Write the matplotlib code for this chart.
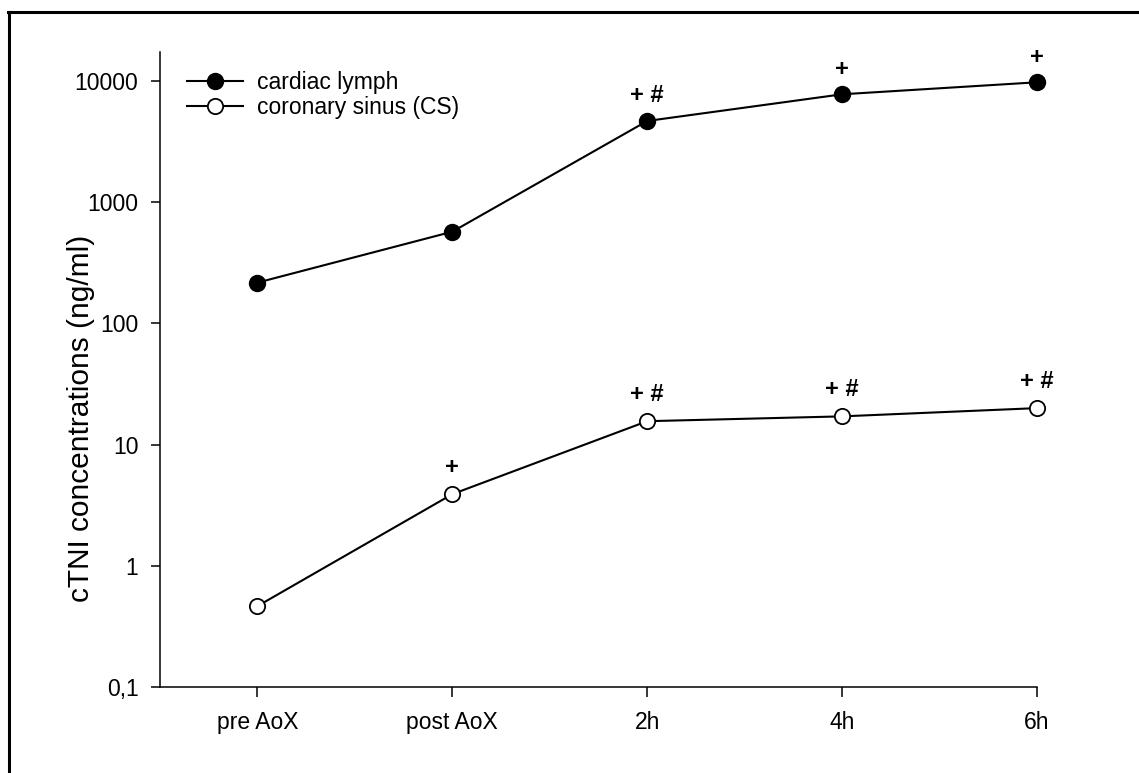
import matplotlib
matplotlib.use("Agg")
import matplotlib.pyplot as plt
from matplotlib.lines import Line2D

plt.rcParams["font.family"] = ["Liberation Sans", "DejaVu Sans"]

# data
timepoints = ["pre AoX", "post AoX", "2h", "4h", "6h"]
lymph      = [217, 571, 4680, 7770, 9760]
sinus      = [0.465, 3.9, 15.6, 17.1, 20.0]
lymph_sig  = ["", "", "+ #", "+", "+"]
sinus_sig  = ["", "+", "+ #", "+ #", "+ #"]
ytick_vals = [0.1, 1, 10, 100, 1000, 10000]
ytick_labs = ["0,1", "1", "10", "100", "1000", "10000"]

W, H = 1139, 773
fig = plt.figure(figsize=(W/100, H/100), dpi=100)
ax = fig.add_axes([160/W, 1-687/H, (1037-160)/W, (687-52)/H])

x = list(range(len(timepoints)))
ax.plot(x, lymph, "-o", color="black", lw=1.5, ms=11.5, clip_on=False,
        mfc="black", mec="black", label="cardiac lymph")
ax.plot(x, sinus, "-o", color="black", lw=1.5, ms=11, clip_on=False,
        mfc="white", mec="black", mew=1.3, label="coronary sinus (CS)")

for xi, yv, s in zip(x, lymph, lymph_sig):
    if s:
        ax.annotate(s, (xi, yv), xytext=(0, 18), textcoords="offset points",
                    ha="center", va="center", fontsize=17, fontweight="bold")
for xi, yv, s in zip(x, sinus, sinus_sig):
    if s:
        ax.annotate(s, (xi, yv), xytext=(0, 19.5), textcoords="offset points",
                    ha="center", va="center", fontsize=17, fontweight="bold")

ax.set_yscale("log")
ax.set_ylim(0.1, 10**(4 + 29/121.2))
ax.set_xlim(-0.5, 4)
ax.set_yticks(ytick_vals)
ax.set_yticklabels(ytick_labs)
ax.minorticks_off()
ax.set_xticks(x)
ax.set_xticklabels(timepoints)

for s in ["top", "right"]:
    ax.spines[s].set_visible(False)
for s in ["left", "bottom"]:
    ax.spines[s].set_linewidth(1.1)
ax.tick_params(axis="y", direction="out", length=6.5, width=1.1, pad=9, labelsize=16.5)
ax.tick_params(axis="x", direction="out", length=7, width=1.1, pad=10, labelsize=16.5)

fig.text(81/W, 1-418/H, "cTNI concentrations (ng/ml)", rotation=90,
         ha="center", va="center", fontsize=21.5)

ax.legend(loc="upper left", bbox_to_anchor=(187/W, 1-71/H),
          bbox_transform=fig.transFigure, frameon=False, fontsize=16.5,
          handlelength=2.45, handletextpad=0.6, labelspacing=0.1,
          borderpad=0, borderaxespad=0)

# scan frame (only top and left edges visible)
fig.add_artist(Line2D([8/W, 1], [1-12/H, 1-12/H], transform=fig.transFigure,
                      color="black", lw=2.2))
fig.add_artist(Line2D([9/W, 9/W], [0, 1-12/H], transform=fig.transFigure,
                      color="black", lw=2.2))

fig.savefig("out.png", dpi=100)
